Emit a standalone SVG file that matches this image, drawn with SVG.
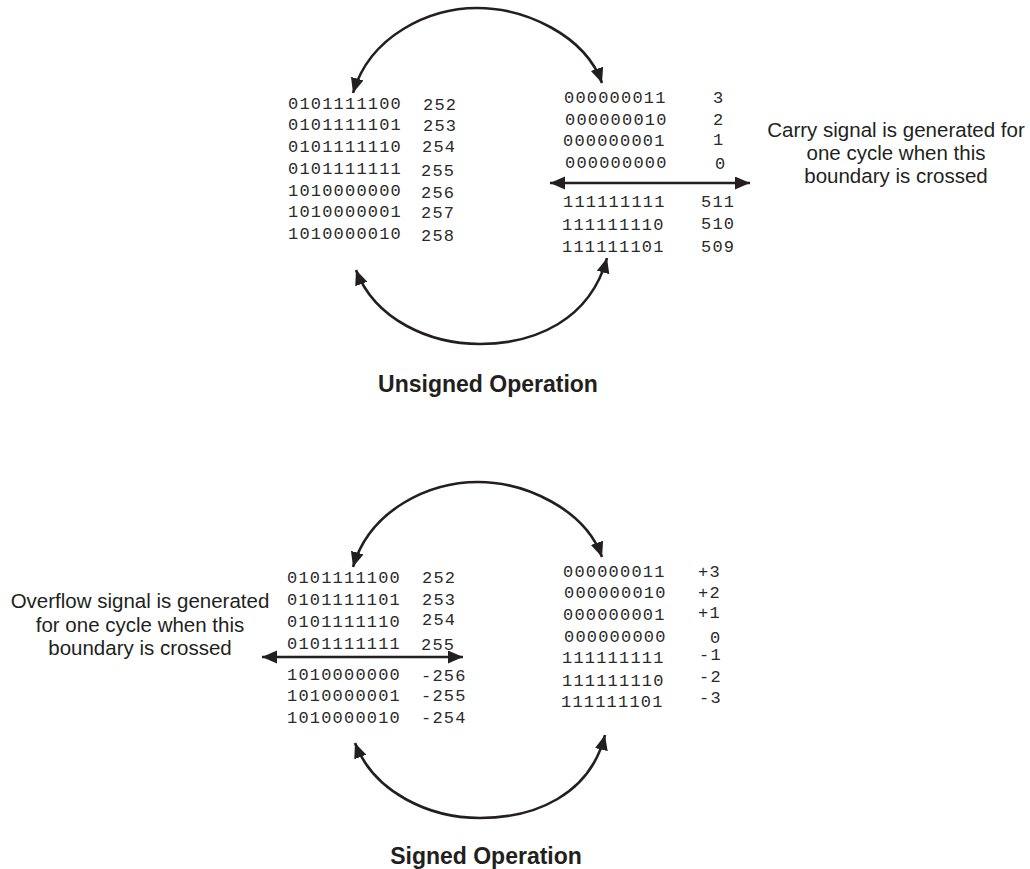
<svg xmlns="http://www.w3.org/2000/svg" width="1030" height="869" viewBox="0 0 1030 869">
<style>
.m{font-family:"Liberation Mono","Courier New",monospace;font-size:17px;letter-spacing:1.2px;fill:#2a2a2a}
.s{font-family:"Liberation Sans",Arial,sans-serif;font-size:20.5px;fill:#231f20;text-anchor:middle}
.t{font-family:"Liberation Sans",Arial,sans-serif;font-size:23px;font-weight:bold;fill:#231f20;text-anchor:middle}
.c{fill:none;stroke:#231f20;stroke-width:2.6}
</style>
<defs>
<marker id="ah" markerUnits="userSpaceOnUse" markerWidth="16" markerHeight="14" refX="15" refY="6.5" orient="auto-start-reverse">
<path d="M0,0 L15,6.5 L0,13 z" fill="#231f20"/>
</marker>
</defs>
<rect width="1030" height="869" fill="#ffffff"/>

<g id="connectors">
<path class="c" d="M353,93 C370,35 430,8 477,8 C525,8 585,35 602,83" marker-start="url(#ah)" marker-end="url(#ah)"/>
<path class="c" d="M356,270 C375,320 430,344 480,344 C535,344 590,320 607,258" marker-start="url(#ah)" marker-end="url(#ah)"/>
<path class="c" d="M550,183 L750,183" marker-start="url(#ah)" marker-end="url(#ah)"/>
<path class="c" d="M353,567 C370,509 430,482 478,482 C525,482 585,509 602,557" marker-start="url(#ah)" marker-end="url(#ah)"/>
<path class="c" d="M355,743 C374,793 430,818 480,818 C535,818 590,795 605,735" marker-start="url(#ah)" marker-end="url(#ah)"/>
<path class="c" d="M262,657 L463,657" marker-start="url(#ah)" marker-end="url(#ah)"/>
</g>

<g id="unsigned-left">
<text class="m" x="288" y="109">0101111100</text><text class="m" x="423" y="110">252</text>
<text class="m" x="288" y="130">0101111101</text><text class="m" x="423" y="131">253</text>
<text class="m" x="288" y="152">0101111110</text><text class="m" x="422" y="152">254</text>
<text class="m" x="288" y="174">0101111111</text><text class="m" x="421" y="176">255</text>
<text class="m" x="288" y="196">1010000000</text><text class="m" x="421" y="198">256</text>
<text class="m" x="288" y="217">1010000001</text><text class="m" x="421" y="218">257</text>
<text class="m" x="288" y="239">1010000010</text><text class="m" x="421" y="241">258</text>
</g>

<g id="unsigned-right">
<text class="m" x="564" y="103">000000011</text><text class="m" x="713" y="103">3</text>
<text class="m" x="565" y="125">000000010</text><text class="m" x="713" y="125">2</text>
<text class="m" x="563" y="146">000000001</text><text class="m" x="713" y="145">1</text>
<text class="m" x="565" y="168">000000000</text><text class="m" x="715" y="169">0</text>
<text class="m" x="563" y="207">111111111</text><text class="m" x="701" y="207">511</text>
<text class="m" x="562" y="230">111111110</text><text class="m" x="701" y="229">510</text>
<text class="m" x="562" y="252">111111101</text><text class="m" x="701" y="252">509</text>
</g>

<g id="carry-note">
<text class="s" x="896" y="137">Carry signal is generated for</text>
<text class="s" x="896" y="160">one cycle when this</text>
<text class="s" x="896" y="183">boundary is crossed</text>
</g>

<g id="unsigned-title">
<text class="t" x="488" y="392">Unsigned Operation</text>
</g>

<g id="signed-left">
<text class="m" x="287" y="583">0101111100</text><text class="m" x="422" y="583">252</text>
<text class="m" x="287" y="605">0101111101</text><text class="m" x="422" y="605">253</text>
<text class="m" x="287" y="627">0101111110</text><text class="m" x="422" y="625">254</text>
<text class="m" x="287" y="649">0101111111</text><text class="m" x="421" y="650">255</text>
<text class="m" x="287" y="680">1010000000</text><text class="m" x="421" y="681">-256</text>
<text class="m" x="287" y="701">1010000001</text><text class="m" x="421" y="701">-255</text>
<text class="m" x="287" y="723">1010000010</text><text class="m" x="421" y="723">-254</text>
</g>

<g id="overflow-note">
<text class="s" x="140" y="608">Overflow signal is generated</text>
<text class="s" x="140" y="632">for one cycle when this</text>
<text class="s" x="140" y="655">boundary is crossed</text>
</g>

<g id="signed-right">
<text class="m" x="563" y="577">000000011</text><text class="m" x="698" y="577">+3</text>
<text class="m" x="564" y="598">000000010</text><text class="m" x="698" y="598">+2</text>
<text class="m" x="563" y="620">000000001</text><text class="m" x="698" y="618">+1</text>
<text class="m" x="564" y="642">000000000</text><text class="m" x="710" y="643">0</text>
<text class="m" x="562" y="663">111111111</text><text class="m" x="699" y="660">-1</text>
<text class="m" x="562" y="686">111111110</text><text class="m" x="699" y="682">-2</text>
<text class="m" x="561" y="707">111111101</text><text class="m" x="699" y="703">-3</text>
</g>

<g id="signed-title">
<text class="t" x="486" y="864">Signed Operation</text>
</g>
</svg>
